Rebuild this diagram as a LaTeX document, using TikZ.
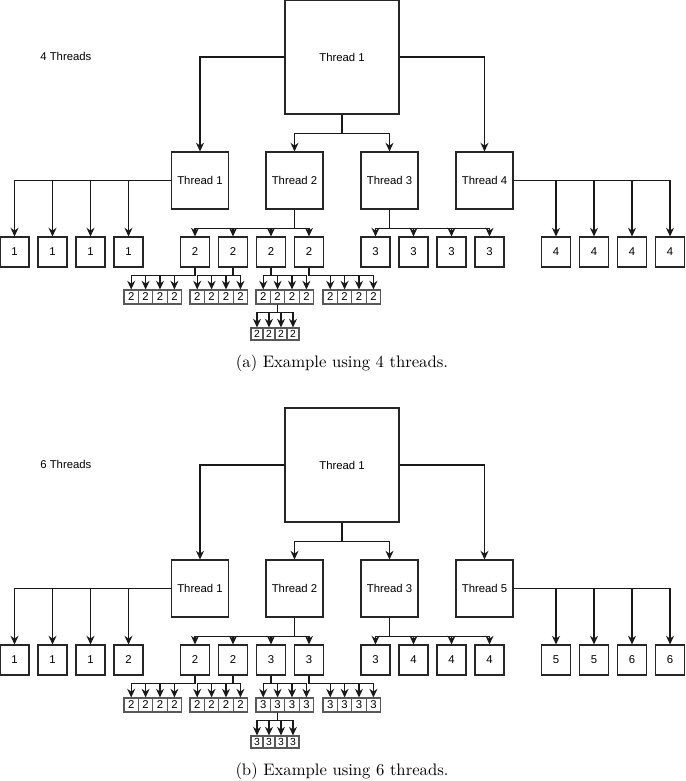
\documentclass[tikz,border=0pt]{standalone}
\usepackage{fontspec}
\newfontfamily\diagfont{Liberation Sans}
\usetikzlibrary{arrows.meta}
\tikzset{
  box/.style={draw=black!85, line width=0.65pt, inner sep=0pt, font=\diagfont\fontsize{6.8}{8}\selectfont},
  mainbox/.style={box, minimum width=68.4pt, minimum height=68.4pt},
  threadbox/.style={box, minimum width=34.2pt, minimum height=34.2pt},
  leafbox/.style={box, minimum width=17.4pt, minimum height=18pt},
  cellbox/.style={box, draw=black!65, minimum width=8.64pt, minimum height=8.4pt},
  tinybox/.style={box, draw=black!65, minimum width=7.2pt, minimum height=7.2pt, font=\diagfont\fontsize{6.2}{7}\selectfont},
  link/.style={draw=black!90, line width=0.7pt, -{Stealth[length=5.2pt,width=4.8pt]}},
  titletext/.style={anchor=west, inner sep=0pt, font=\diagfont\fontsize{6.8}{8}\selectfont},
  captiontext/.style={font=\fontsize{10}{12}\selectfont}
}

\begin{document}
\begin{tikzpicture}[x=0.6pt,y=-0.6pt]
\useasboundingbox (0,0) rectangle (685,781);
% (a) 4 threads
\node[titletext] (aTitle) at (40,56) {4 Threads};
\node[mainbox] (aMain) at (342,57) {Thread 1};
\node[threadbox] (aT1) at (200,180.5) {Thread 1};
\node[threadbox] (aT2) at (294.5,180.5) {Thread 2};
\node[threadbox] (aT3) at (389.5,180.5) {Thread 3};
\node[threadbox] (aT4) at (484.5,180.5) {Thread 4};
\foreach \x/\l [count=\i] in {14.5/1,52.5/1,90.5/1,128.5/1} \node[leafbox] (aL1-\i) at (\x,252) {\l};
\foreach \x/\l [count=\i] in {195/2,233/2,271/2,309/2} \node[leafbox] (aL2-\i) at (\x,252) {\l};
\foreach \x/\l [count=\i] in {375.5/3,413.5/3,451.5/3,489.5/3} \node[leafbox] (aL3-\i) at (\x,252) {\l};
\foreach \x/\l [count=\i] in {556/4,594/4,632/4,670/4} \node[leafbox] (aL4-\i) at (\x,252) {\l};
\foreach \g/\gx in {1/131.2,2/197.2,3/263.2,4/330.2}
  \foreach \j in {1,...,4} \node[cellbox] (aG\g-\j) at ({\gx+14.4*(\j-1)},297) {2};
\foreach \j in {1,...,4} \node[tinybox] (aH\j) at ({257+12*(\j-1)},334) {2};
\draw[link] (aMain.west) -| (aT1.north);
\draw[link] (aMain.east) -| (aT4.north);
\draw[link] (aMain.south) -- ++(0,19) -| (aT2.north);
\draw[link] (aMain.south) -- ++(0,19) -| (aT3.north);
\foreach \i in {1,...,4} {
  \draw[link] (aT1.west) -| (aL1-\i.north);
  \draw[link] (aT2.south) -- ++(0,19) -| (aL2-\i.north);
  \draw[link] (aT3.south) -- ++(0,19) -| (aL3-\i.north);
  \draw[link] (aT4.east) -| (aL4-\i.north);
  \foreach \j in {1,...,4} \draw[link] (aL2-\i.south) -- ++(0,8) -| (aG\i-\j.north);
  \draw[link] (aG3-2.south) -- ++(0,8) -| (aH\i.north);
}
\node[captiontext] (aCaption) at (342,363) {(a) Example using 4 threads.};
% (b) 6 threads
\begin{scope}[shift={(0,408)}]
\node[titletext] (bTitle) at (40,56) {6 Threads};
\node[mainbox] (bMain) at (342,57) {Thread 1};
\node[threadbox] (bT1) at (200,180.5) {Thread 1};
\node[threadbox] (bT2) at (294.5,180.5) {Thread 2};
\node[threadbox] (bT3) at (389.5,180.5) {Thread 3};
\node[threadbox] (bT4) at (484.5,180.5) {Thread 5};
\foreach \x/\l [count=\i] in {14.5/1,52.5/1,90.5/1,128.5/2} \node[leafbox] (bL1-\i) at (\x,252) {\l};
\foreach \x/\l [count=\i] in {195/2,233/2,271/3,309/3} \node[leafbox] (bL2-\i) at (\x,252) {\l};
\foreach \x/\l [count=\i] in {375.5/3,413.5/4,451.5/4,489.5/4} \node[leafbox] (bL3-\i) at (\x,252) {\l};
\foreach \x/\l [count=\i] in {556/5,594/5,632/6,670/6} \node[leafbox] (bL4-\i) at (\x,252) {\l};
\foreach \g/\gx/\l in {1/131.2/2,2/197.2/2,3/263.2/3,4/330.2/3}
  \foreach \j in {1,...,4} \node[cellbox] (bG\g-\j) at ({\gx+14.4*(\j-1)},297) {\l};
\foreach \j in {1,...,4} \node[tinybox] (bH\j) at ({257+12*(\j-1)},334) {3};
\draw[link] (bMain.west) -| (bT1.north);
\draw[link] (bMain.east) -| (bT4.north);
\draw[link] (bMain.south) -- ++(0,19) -| (bT2.north);
\draw[link] (bMain.south) -- ++(0,19) -| (bT3.north);
\foreach \i in {1,...,4} {
  \draw[link] (bT1.west) -| (bL1-\i.north);
  \draw[link] (bT2.south) -- ++(0,19) -| (bL2-\i.north);
  \draw[link] (bT3.south) -- ++(0,19) -| (bL3-\i.north);
  \draw[link] (bT4.east) -| (bL4-\i.north);
  \foreach \j in {1,...,4} \draw[link] (bL2-\i.south) -- ++(0,8) -| (bG\i-\j.north);
  \draw[link] (bG3-2.south) -- ++(0,8) -| (bH\i.north);
}
\node[captiontext] (bCaption) at (342,363) {(b) Example using 6 threads.};
\end{scope}
\end{tikzpicture}
\end{document}
